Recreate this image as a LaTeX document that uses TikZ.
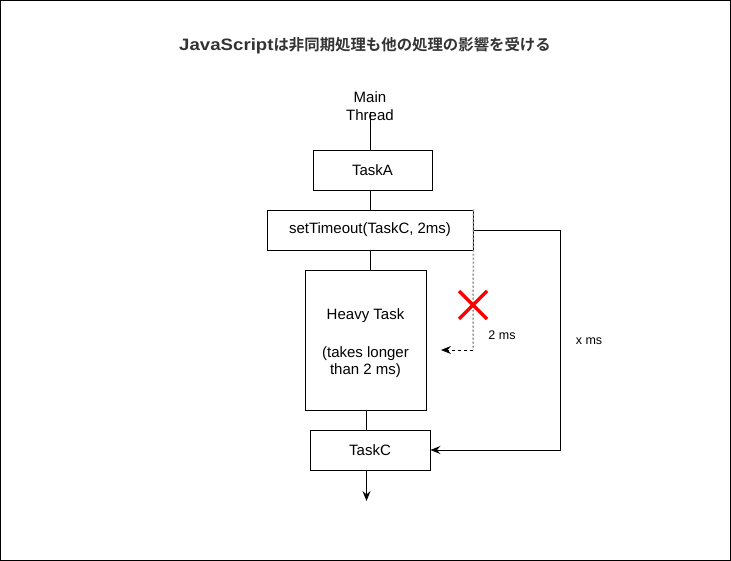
\documentclass[tikz,border=0pt]{standalone}
\usepackage{fontspec}
\setmainfont{Liberation Sans}
\newfontfamily\cjk{Noto Sans CJK JP}[BoldFont={Noto Sans CJK JP Bold}]
\usetikzlibrary{arrows.meta,calc}
\definecolor{titlegray}{HTML}{333333}
\tikzset{
  box/.style={draw, line width=0.9pt, fill=white, inner sep=0pt, font=\fontsize{15}{17.5}\selectfont},
  conn/.style={line width=0.9pt},
  tip/.style={-{Stealth[length=10pt,width=8pt,inset=3.5pt]}},
  lbl/.style={font=\fontsize{12.5}{15}\selectfont, inner sep=0pt}
}
\begin{document}
\begin{tikzpicture}[x=1pt,y=1pt]
\useasboundingbox (0,0) rectangle (731,-561);
\draw[line width=1pt] (0.5,-0.5) rectangle (730.5,-560.5);
% title
\node[inner sep=0pt, text=titlegray] (title) at (365,-46)
  {\bfseries\fontsize{16.5}{20}\selectfont\scalebox{1.13}[1]{JavaScript}\cjk\fontsize{15.4}{20}\selectfont は非同期処理も他の処理の影響を受ける};
% coordinates for vertical line positions
\coordinate (xa) at (370,0);
\coordinate (xb) at (366.5,0);
\coordinate (mt) at (370,-112);
% nodes
\node[box, minimum width=121pt, minimum height=140pt, align=center] (H) at (365.5,-340)
  {\raisebox{-3.5pt}[\height][\depth]{\begin{tabular}{@{}c@{}}Heavy Task\\[20.5pt](takes longer\\than 2 ms)\end{tabular}}};
\node[box, minimum width=119pt, minimum height=40pt] (A) at (372.5,-170) {TaskA};
\node[box, minimum width=206pt, minimum height=40pt] (S) at (370,-230) {setTimeout(TaskC, 2ms)};
\node[box, minimum width=120pt, minimum height=40pt] (C) at (370,-450) {TaskC};
\coordinate (end) at (366.5,-501);
\coordinate (r1) at (560,-230);
\coordinate (r2) at (560,-450);
\coordinate (d1) at (473,-350);
\coordinate (d2) at (441,-350);
% connectors
\draw[conn] (mt) -- (A.north -| xa);
\node[box, draw=none, fill=none, align=center] (M) at (370,-106) {Main\\Thread};
\draw[conn] (A.south -| xa) -- (S.north -| xa);
\draw[conn] (S.south -| xa) -- (H.north -| xa);
\draw[conn] (H.south -| xb) -- (C.north -| xb);
\draw[conn, tip] (C.south -| xb) -- (end);
\draw[conn, tip] (S.east) -- (r1) -- (r2) -- (C.east);
\draw[line width=1.5pt, gray!85, dash pattern=on 2pt off 2pt] (S.north east) -- (d1);
\draw[conn, dash pattern=on 3pt off 3pt, tip] (d1) -- (d2);
% red cross
\coordinate (xc) at (473,-305);
\draw[red, line width=3.5pt] ($(xc)+(-14,14)$) -- ($(xc)+(14,-14)$);
\draw[red, line width=3.5pt] ($(xc)+(-14,-14)$) -- ($(xc)+(14,14)$);
\node[lbl] (xms) at (589,-341) {x ms};
\node[lbl] (tms) at (502,-335) {2 ms};
\end{tikzpicture}
\end{document}
